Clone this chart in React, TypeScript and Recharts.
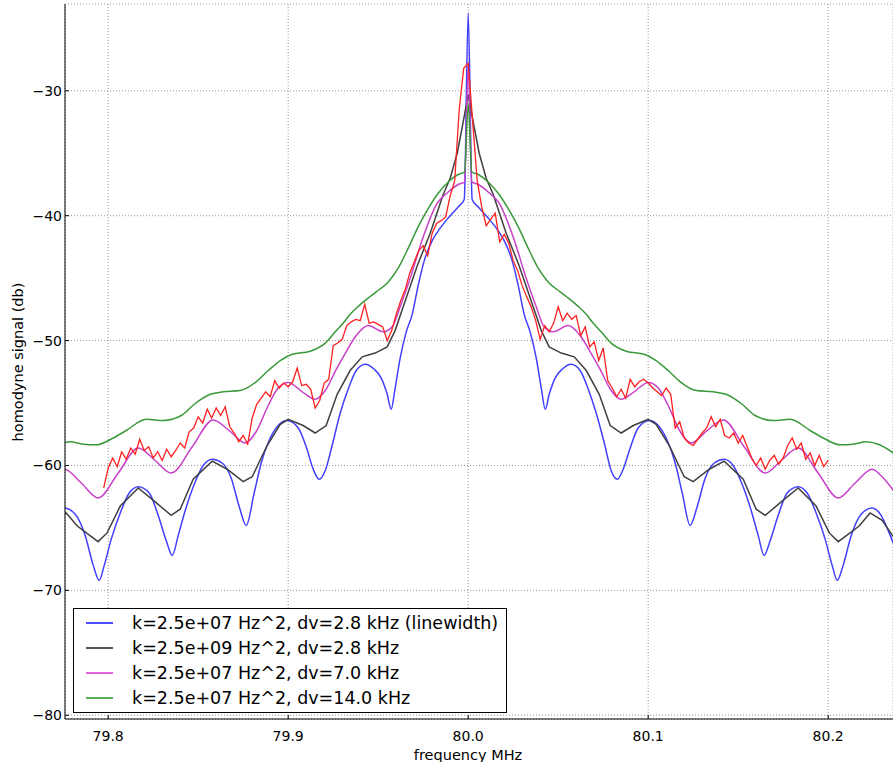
import React from "react";
import { LineChart, Line, XAxis, YAxis, CartesianGrid } from "recharts";

// [frequency MHz, signal db]
const blueTrace: [number, number][] = [
  [79.7706, -64.0], [79.7756, -63.4], [79.7817, -63.9], [79.7872, -65.6], [79.7917, -68.0],
  [79.795, -69.2], [79.7978, -68.0], [79.8017, -65.9], [79.8067, -63.8], [79.8117, -62.2],
  [79.8167, -61.7], [79.8228, -62.2], [79.8278, -64.0], [79.8322, -66.0], [79.8356, -67.2],
  [79.8389, -65.6], [79.8428, -63.6], [79.8478, -61.5], [79.8528, -60.0], [79.8578, -59.5],
  [79.8633, -59.8], [79.8683, -61.0], [79.8728, -63.3], [79.8767, -64.8], [79.8811, -62.2],
  [79.885, -59.8], [79.8894, -58.0], [79.8944, -56.8], [79.8994, -56.4], [79.9056, -57.0],
  [79.91, -58.5], [79.9139, -60.3], [79.9172, -61.1], [79.9206, -60.4], [79.9244, -58.4],
  [79.9289, -55.8], [79.9333, -53.9], [79.9378, -52.4], [79.9428, -51.9], [79.9478, -52.3],
  [79.9517, -53.0], [79.955, -54.3], [79.9572, -55.5], [79.9594, -53.8], [79.9622, -51.4],
  [79.9656, -49.3], [79.9689, -47.9], [79.9722, -45.6], [79.9756, -43.6], [79.98, -42.0],
  [79.9844, -41.0], [79.9894, -40.1], [79.9944, -39.3], [79.9978, -38.7], [80.0, -23.8],
  [80.0022, -38.7], [80.0056, -39.3], [80.0106, -40.1], [80.0156, -41.0], [80.02, -42.0],
  [80.0244, -43.6], [80.0278, -45.6], [80.0311, -47.9], [80.0344, -49.3], [80.0378, -51.4],
  [80.0406, -53.8], [80.0428, -55.5], [80.045, -54.3], [80.0483, -53.0], [80.0522, -52.3],
  [80.0572, -51.9], [80.0622, -52.4], [80.0667, -53.9], [80.0711, -55.8], [80.0756, -58.2],
  [80.0794, -60.4], [80.0828, -61.1], [80.0861, -60.3], [80.09, -58.6], [80.0944, -57.0],
  [80.1006, -56.4], [80.1056, -56.8], [80.1106, -58.0], [80.115, -59.8], [80.1189, -62.2],
  [80.1233, -64.8], [80.1272, -63.3], [80.1317, -61.0], [80.1367, -59.8], [80.1422, -59.5],
  [80.1472, -60.0], [80.1522, -61.5], [80.1572, -63.6], [80.1611, -65.6], [80.1644, -67.2],
  [80.1678, -66.0], [80.1722, -64.0], [80.1772, -62.2], [80.1833, -61.7], [80.1883, -62.2],
  [80.1933, -63.8], [80.1983, -65.9], [80.2022, -68.0], [80.205, -69.2], [80.2083, -68.0],
  [80.2128, -65.6], [80.2183, -63.9], [80.2244, -63.4], [80.2294, -64.0], [80.2333, -65.2],
  [80.2372, -66.6],
];

const blackTrace: [number, number][] = [
  [79.77, -64.4], [79.7767, -63.8], [79.7828, -64.85], [79.7944, -66.1], [79.7994, -65.4],
  [79.8067, -63.25], [79.8167, -61.8], [79.8256, -62.85], [79.835, -64.0], [79.84, -63.5],
  [79.8472, -61.1], [79.8578, -59.65], [79.8661, -60.3], [79.875, -61.3], [79.88, -60.9],
  [79.8883, -58.4], [79.8956, -56.7], [79.9, -56.3], [79.9083, -56.8], [79.915, -57.4],
  [79.9211, -56.8], [79.9272, -54.3], [79.9344, -52.4], [79.9411, -51.3], [79.9483, -51.0],
  [79.955, -50.5], [79.9594, -49.2], [79.9639, -47.3], [79.9717, -44.0], [79.9789, -41.4],
  [79.9861, -38.3], [79.99, -37.0], [79.9939, -35.0], [79.9972, -32.5], [80.0, -30.3],
  [80.0028, -32.5], [80.0061, -35.0], [80.01, -37.0], [80.0139, -38.3], [80.0211, -41.4],
  [80.0283, -44.0], [80.0361, -47.3], [80.0406, -49.2], [80.045, -50.5], [80.0517, -51.0],
  [80.0589, -51.3], [80.0656, -52.4], [80.0728, -54.3], [80.0789, -56.8], [80.085, -57.4],
  [80.0917, -56.8], [80.1, -56.3], [80.1044, -56.7], [80.1117, -58.4], [80.12, -60.9],
  [80.125, -61.3], [80.1339, -60.3], [80.1422, -59.65], [80.1528, -61.1], [80.16, -63.5],
  [80.165, -64.0], [80.1744, -62.85], [80.1833, -61.8], [80.1933, -63.25], [80.2006, -65.4],
  [80.2056, -66.1], [80.2172, -64.85], [80.2233, -63.8], [80.23, -64.4], [80.2361, -65.7],
];

const magentaTrace: [number, number][] = [
  [79.7694, -61.0], [79.7756, -60.3], [79.785, -61.4], [79.7944, -62.6], [79.8056, -60.6],
  [79.8167, -58.6], [79.8261, -59.6], [79.835, -60.6], [79.8467, -58.5], [79.8583, -56.35],
  [79.8672, -57.2], [79.8761, -58.2], [79.8822, -57.3], [79.8889, -55.2], [79.8944, -53.8],
  [79.9, -53.35], [79.9078, -54.1], [79.915, -54.7], [79.9206, -54.0], [79.9267, -52.3],
  [79.9322, -50.9], [79.9378, -49.6], [79.9444, -48.8], [79.9528, -49.3], [79.9578, -48.9],
  [79.9622, -47.3], [79.9678, -45.0], [79.975, -41.7], [79.9828, -39.0], [79.9889, -38.1],
  [79.9944, -37.5], [79.998, -37.3], [80.0, -28.0], [80.002, -37.3], [80.0056, -37.5],
  [80.0111, -38.1], [80.0172, -39.0], [80.025, -41.7], [80.0322, -45.0], [80.0378, -47.3],
  [80.0422, -48.9], [80.0472, -49.3], [80.0556, -48.8], [80.0622, -49.6], [80.0678, -50.9],
  [80.0733, -52.3], [80.0794, -54.0], [80.085, -54.7], [80.0922, -54.1], [80.1, -53.35],
  [80.1056, -53.8], [80.1111, -55.2], [80.1178, -57.3], [80.1239, -58.2], [80.1328, -57.2],
  [80.1417, -56.35], [80.1533, -58.5], [80.165, -60.6], [80.1739, -59.6], [80.1833, -58.6],
  [80.1944, -60.6], [80.2056, -62.6], [80.215, -61.4], [80.2244, -60.3], [80.2306, -61.0],
  [80.2372, -62.2],
];

const greenTrace: [number, number][] = [
  [79.7722, -58.3], [79.7789, -58.1], [79.7861, -58.3], [79.7933, -58.35], [79.8028, -57.8],
  [79.81, -57.2], [79.8211, -56.3], [79.8306, -56.4], [79.8406, -56.0], [79.8478, -55.1],
  [79.8567, -54.3], [79.8639, -54.1], [79.8733, -54.0], [79.8822, -53.3], [79.8889, -52.4],
  [79.8956, -51.6], [79.9022, -51.1], [79.9122, -50.85], [79.9206, -50.2], [79.9261, -49.3],
  [79.9306, -48.6], [79.9344, -47.9], [79.9394, -47.2], [79.9444, -46.6], [79.9489, -46.1],
  [79.9556, -45.3], [79.9611, -44.2], [79.9667, -42.6], [79.9722, -40.9], [79.9767, -39.7],
  [79.9828, -38.3], [79.9889, -37.3], [79.9944, -36.7], [79.998, -36.5], [80.0, -31.0],
  [80.002, -36.5], [80.0056, -36.7], [80.0111, -37.3], [80.0172, -38.3], [80.0233, -39.7],
  [80.0278, -40.9], [80.0333, -42.6], [80.0389, -44.2], [80.0444, -45.3], [80.0511, -46.1],
  [80.0556, -46.6], [80.0606, -47.2], [80.0656, -47.9], [80.0694, -48.6], [80.0739, -49.3],
  [80.0794, -50.2], [80.0878, -50.85], [80.0978, -51.1], [80.1044, -51.6], [80.1111, -52.4],
  [80.1178, -53.3], [80.1267, -54.0], [80.1361, -54.1], [80.1433, -54.3], [80.1522, -55.1],
  [80.1594, -56.0], [80.1694, -56.4], [80.1789, -56.3], [80.19, -57.2], [80.1972, -57.8],
  [80.2067, -58.35], [80.2139, -58.3], [80.2211, -58.1], [80.2278, -58.3], [80.2372, -59.1],
];

// measured trace, sampled every 2.5 kHz from 79.7975 MHz
const redStart = 79.7975;
const redStep = 0.0025;
const redDb = [
  -61.8, -60.2, -59.4, -60.1, -58.9, -59.5, -58.6, -59.1, -57.9, -58.8,
  -58.5, -59.4, -58.9, -59.6, -58.7, -59.3, -58.8, -58.2, -58.6, -57.3,
  -57.0, -56.1, -56.6, -55.5, -56.2, -55.4, -56.0, -55.3, -56.9, -57.4,
  -58.1, -57.6, -58.3, -56.2, -55.1, -54.6, -54.1, -54.5, -53.2, -53.8,
  -53.4, -53.7, -53.3, -52.2, -53.6, -53.5, -53.9, -55.4, -54.8, -53.4,
  -53.1, -50.4, -50.2, -49.9, -48.8, -48.5, -48.3, -48.4, -47.1, -48.6,
  -48.5, -48.7, -48.9, -50.0, -49.2, -47.9, -46.8, -45.9, -44.6, -43.7,
  -42.8, -42.4, -43.2, -41.4, -40.6, -40.4, -40.1, -38.4, -37.2, -31.5,
  -28.2, -27.8, -32.5, -37.2, -39.3, -40.8, -40.3, -39.8, -42.1, -41.5,
  -42.2, -43.6, -44.4, -45.6, -46.5, -47.3, -48.4, -49.9, -48.8, -49.3,
  -48.6, -47.3, -48.4, -47.8, -48.3, -48.0, -49.6, -48.9, -50.5, -50.1,
  -51.6, -50.6, -53.2, -53.8, -54.5, -53.9, -54.6, -53.1, -53.7, -53.3,
  -53.1, -53.4, -53.8, -54.1, -54.4, -53.8, -54.3, -57.0, -56.5, -57.8,
  -58.2, -58.4, -57.9, -57.4, -57.0, -56.1, -56.9, -56.3, -57.6, -57.8,
  -57.4, -58.2, -57.6, -58.5, -59.4, -60.0, -59.4, -60.3, -59.6, -59.2,
  -59.9, -59.4, -58.4, -57.8, -58.7, -58.2, -59.5, -59.0, -60.0, -59.2,
  -60.1, -59.6,
];

const xTicks = [79.8, 79.9, 80.0, 80.1, 80.2];
const yTicks = [-80, -70, -60, -50, -40, -30];
const xDomain: [number, number] = [79.776, 80.236];
const yDomain: [number, number] = [-80.3, -23.05];

const legendItems = [
  { label: "k=2.5e+07 Hz^2, dv=2.8 kHz (linewidth)", color: "#4d4dff" },
  { label: "k=2.5e+09 Hz^2, dv=2.8 kHz", color: "#555555" },
  { label: "k=2.5e+07 Hz^2, dv=7.0 kHz", color: "#dd66dd" },
  { label: "k=2.5e+07 Hz^2, dv=14.0 kHz", color: "#5cae5c" },
];

const toPoints = (trace: [number, number][]) => trace.map(([f, db]) => ({ f, db }));
const redPoints = redDb.map((db, i) => ({ f: +(redStart + i * redStep).toFixed(4), db }));

const font = "'DejaVu Sans', sans-serif";
const TICK_LEN = 4;

// matplotlib style: inward tick mark + label
const BottomTick = (props: any) => {
  const { x, y, payload } = props;
  const axisY = y - 12;
  return (
    <g>
      <line x1={x} y1={axisY} x2={x} y2={axisY - TICK_LEN} stroke="#000" />
      <text x={x} y={y} dy="0.71em" textAnchor="middle" fontSize={14} fontFamily={font} fill="#000">
        {Number(payload.value).toFixed(1)}
      </text>
    </g>
  );
};

const TopTick = (props: any) => {
  const { x, y } = props;
  return <line x1={x} y1={y} x2={x} y2={y + TICK_LEN} stroke="#000" />;
};

const LeftTick = (props: any) => {
  const { x, y, payload } = props;
  const axisX = x + 3;
  return (
    <g>
      <line x1={axisX} y1={y} x2={axisX + TICK_LEN} y2={y} stroke="#000" />
      <text x={x} y={y} dy="0.355em" textAnchor="end" fontSize={14} fontFamily={font} fill="#000">
        {String(payload.value).replace("-", "\u2212")}
      </text>
    </g>
  );
};

export default function App() {
  return (
    <div
      style={{
        position: "absolute",
        left: 0,
        top: 0,
        width: 893,
        height: 762,
        overflow: "hidden",
        background: "#fff",
        fontFamily: font,
      }}
    >
      <LineChart width={893} height={762} margin={{ top: 4, right: 0, left: 25, bottom: 12 }}>
        <CartesianGrid stroke="#999" strokeDasharray="1 2" />
        <XAxis
          type="number"
          dataKey="f"
          domain={xDomain}
          ticks={xTicks}
          allowDataOverflow
          axisLine={{ stroke: "#000" }}
          tickLine={false}
          tickSize={6}
          tickMargin={6}
          height={31}
          tick={<BottomTick />}
        />
        <XAxis
          xAxisId="top"
          orientation="top"
          type="number"
          dataKey="f"
          domain={xDomain}
          ticks={xTicks}
          allowDataOverflow
          axisLine={{ stroke: "#000" }}
          tickLine={false}
          tickSize={0}
          tickMargin={0}
          height={0}
          tick={<TopTick />}
        />
        <YAxis
          type="number"
          domain={yDomain}
          ticks={yTicks}
          allowDataOverflow
          axisLine={{ stroke: "#000" }}
          tickLine={false}
          tickSize={3}
          tickMargin={0}
          width={40}
          tick={<LeftTick />}
        />
        <Line data={toPoints(blueTrace)} dataKey="db" type="monotone" stroke="#4040ff" strokeWidth={1.5} dot={false} isAnimationActive={false} />
        <Line data={toPoints(blackTrace)} dataKey="db" type="linear" stroke="#404040" strokeWidth={1.5} dot={false} isAnimationActive={false} />
        <Line data={toPoints(magentaTrace)} dataKey="db" type="monotone" stroke="#c840c8" strokeWidth={1.5} dot={false} isAnimationActive={false} />
        <Line data={toPoints(greenTrace)} dataKey="db" type="monotone" stroke="#3a9a3a" strokeWidth={1.5} dot={false} isAnimationActive={false} />
        <Line data={redPoints} dataKey="db" type="linear" stroke="#ff2020" strokeWidth={1.3} dot={false} isAnimationActive={false} />
      </LineChart>

      {/* axis titles */}
      <div
        style={{
          position: "absolute",
          left: 18,
          top: 362,
          transform: "translate(-50%, -50%) rotate(-90deg)",
          whiteSpace: "nowrap",
          fontSize: 14.5,
          lineHeight: "17px",
        }}
      >
        homodyne signal (db)
      </div>
      <div
        style={{
          position: "absolute",
          left: 468,
          top: 755,
          transform: "translate(-50%, -50%)",
          whiteSpace: "nowrap",
          fontSize: 14.5,
          lineHeight: "15px",
        }}
      >
        frequency MHz
      </div>

      {/* legend */}
      <div
        style={{
          position: "absolute",
          left: 73,
          top: 608,
          width: 432,
          height: 103,
          border: "1px solid #000",
          background: "#fff",
        }}
      >
        {legendItems.map((item, i) => (
          <div
            key={item.label}
            style={{
              position: "absolute",
              left: 0,
              top: 14 + i * 25 - 12,
              height: 24,
              display: "flex",
              alignItems: "center",
              whiteSpace: "nowrap",
            }}
          >
            <div style={{ marginLeft: 12, width: 27, height: 2, background: item.color }} />
            <span style={{ marginLeft: 19, fontSize: 17.5, color: "#000" }}>{item.label}</span>
          </div>
        ))}
      </div>
    </div>
  );
}
